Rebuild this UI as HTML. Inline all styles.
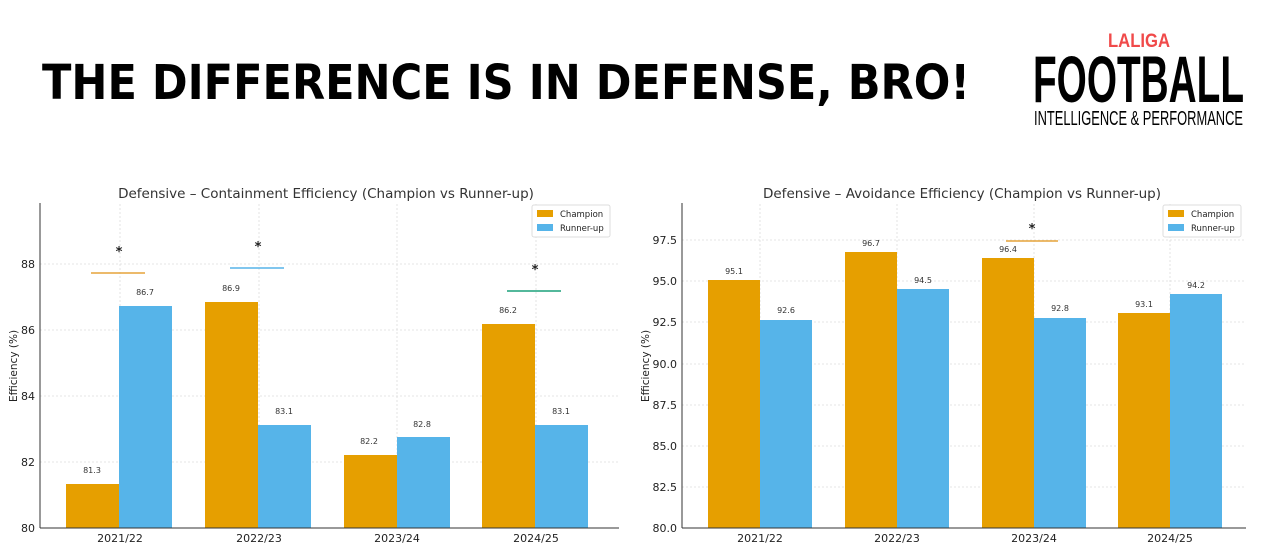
<!DOCTYPE html>
<html><head><meta charset="utf-8"><style>
html,body{margin:0;padding:0;background:#fff;}
svg{display:block;font-family:"DejaVu Sans","Liberation Sans",sans-serif;}
</style></head><body>
<svg width="1264" height="551" viewBox="0 0 1264 551" xmlns="http://www.w3.org/2000/svg">
<rect width="1264" height="551" fill="#fff"/>
<text x="42" y="99" font-family="DejaVu Sans" font-weight="bold" font-size="48" textLength="928" lengthAdjust="spacingAndGlyphs" fill="#000">THE DIFFERENCE IS IN DEFENSE, BRO!</text>
<text x="1108" y="47" font-family="Liberation Sans" font-weight="bold" font-size="19" textLength="62" lengthAdjust="spacingAndGlyphs" fill="#f04a4a">LALIGA</text>
<text x="1033" y="102" font-family="Liberation Sans" font-weight="bold" font-size="66" textLength="211" lengthAdjust="spacingAndGlyphs" fill="#000">FOOTBALL</text>
<text x="1034" y="125" font-family="Liberation Sans" font-size="20" textLength="209" lengthAdjust="spacingAndGlyphs" fill="#000">INTELLIGENCE &amp; PERFORMANCE</text>

<!-- LEFT CHART -->
<g font-size="11" fill="#222">
<text x="326" y="198" font-size="13.5" text-anchor="middle" fill="#333">Defensive – Containment Efficiency (Champion vs Runner-up)</text>
<g stroke="#ddd" stroke-dasharray="2,2" stroke-width="0.8">
<line x1="40" x2="619" y1="462" y2="462"/><line x1="40" x2="619" y1="396" y2="396"/><line x1="40" x2="619" y1="330" y2="330"/><line x1="40" x2="619" y1="264" y2="264"/>
<line x1="120" x2="120" y1="204" y2="528"/><line x1="259" x2="259" y1="204" y2="528"/><line x1="397" x2="397" y1="204" y2="528"/><line x1="536" x2="536" y1="204" y2="528"/>
</g>
<g fill="#e69f00">
<rect x="66" y="484" width="53" height="44"/><rect x="205" y="302" width="53" height="226"/><rect x="344" y="455" width="53" height="73"/><rect x="482" y="324" width="53" height="204"/>
</g>
<g fill="#56b4e9">
<rect x="119" y="306" width="53" height="222"/><rect x="258" y="425" width="53" height="103"/><rect x="397" y="437" width="53" height="91"/><rect x="535" y="425" width="53" height="103"/>
</g>
<g font-size="8" text-anchor="middle" fill="#333">
<text x="92" y="473">81.3</text><text x="145" y="295">86.7</text><text x="231" y="291">86.9</text><text x="284" y="414">83.1</text>
<text x="369" y="444">82.2</text><text x="422" y="427">82.8</text><text x="508" y="313">86.2</text><text x="561" y="414">83.1</text>
</g>
<line x1="91" x2="145" y1="273" y2="273" stroke="#e6a43a" stroke-width="1.5"/>
<line x1="230" x2="284" y1="268" y2="268" stroke="#56b4e9" stroke-width="1.5"/>
<line x1="507" x2="561" y1="291" y2="291" stroke="#1aa07a" stroke-width="1.5"/>
<g font-size="13" font-weight="bold" text-anchor="middle" fill="#222"><text x="119" y="256">*</text><text x="258" y="251">*</text><text x="535" y="274">*</text></g>
<line x1="40" x2="40" y1="203" y2="528" stroke="#333"/>
<line x1="40" x2="619" y1="528" y2="528" stroke="#333"/>
<g text-anchor="end"><text x="35" y="532">80</text><text x="35" y="466">82</text><text x="35" y="400">84</text><text x="35" y="334">86</text><text x="35" y="268">88</text></g>
<g text-anchor="middle"><text x="120" y="542">2021/22</text><text x="259" y="542">2022/23</text><text x="397" y="542">2023/24</text><text x="536" y="542">2024/25</text></g>
<text transform="translate(17,366) rotate(-90)" text-anchor="middle" font-size="10.5">Efficiency (%)</text>
<rect x="532" y="205" width="78" height="32" fill="#fff" stroke="#ddd" rx="2"/>
<rect x="537" y="210" width="16" height="7" fill="#e69f00"/><rect x="537" y="224" width="16" height="7" fill="#56b4e9"/>
<text x="560" y="217" font-size="8.5">Champion</text><text x="560" y="231" font-size="8.5">Runner-up</text>
</g>

<!-- RIGHT CHART -->
<g font-size="11" fill="#222">
<text x="962" y="198" font-size="13.5" text-anchor="middle" fill="#333">Defensive – Avoidance Efficiency (Champion vs Runner-up)</text>
<g stroke="#ddd" stroke-dasharray="2,2" stroke-width="0.8">
<line x1="682" x2="1246" y1="487" y2="487"/><line x1="682" x2="1246" y1="446" y2="446"/><line x1="682" x2="1246" y1="405" y2="405"/><line x1="682" x2="1246" y1="364" y2="364"/><line x1="682" x2="1246" y1="322" y2="322"/><line x1="682" x2="1246" y1="281" y2="281"/><line x1="682" x2="1246" y1="240" y2="240"/>
<line x1="760" x2="760" y1="204" y2="528"/><line x1="897" x2="897" y1="204" y2="528"/><line x1="1034" x2="1034" y1="204" y2="528"/><line x1="1170" x2="1170" y1="204" y2="528"/>
</g>
<g fill="#e69f00">
<rect x="708" y="280" width="52" height="248"/><rect x="845" y="252" width="52" height="276"/><rect x="982" y="258" width="52" height="270"/><rect x="1118" y="313" width="52" height="215"/>
</g>
<g fill="#56b4e9">
<rect x="760" y="320" width="52" height="208"/><rect x="897" y="289" width="52" height="239"/><rect x="1034" y="318" width="52" height="210"/><rect x="1170" y="294" width="52" height="234"/>
</g>
<g font-size="8" text-anchor="middle" fill="#333">
<text x="734" y="274">95.1</text><text x="786" y="313">92.6</text><text x="871" y="246">96.7</text><text x="923" y="283">94.5</text>
<text x="1008" y="252">96.4</text><text x="1060" y="311">92.8</text><text x="1144" y="307">93.1</text><text x="1196" y="288">94.2</text>
</g>
<line x1="1006" x2="1058" y1="241" y2="241" stroke="#e6a43a" stroke-width="1.5"/>
<text x="1032" y="233" font-size="13" font-weight="bold" text-anchor="middle">*</text>
<line x1="682" x2="682" y1="203" y2="528" stroke="#333"/>
<line x1="682" x2="1246" y1="528" y2="528" stroke="#333"/>
<g text-anchor="end"><text x="677" y="532">80.0</text><text x="677" y="491">82.5</text><text x="677" y="450">85.0</text><text x="677" y="409">87.5</text><text x="677" y="368">90.0</text><text x="677" y="326">92.5</text><text x="677" y="285">95.0</text><text x="677" y="244">97.5</text></g>
<g text-anchor="middle"><text x="760" y="542">2021/22</text><text x="897" y="542">2022/23</text><text x="1034" y="542">2023/24</text><text x="1170" y="542">2024/25</text></g>
<text transform="translate(649,366) rotate(-90)" text-anchor="middle" font-size="10.5">Efficiency (%)</text>
<rect x="1163" y="205" width="78" height="32" fill="#fff" stroke="#ddd" rx="2"/>
<rect x="1168" y="210" width="16" height="7" fill="#e69f00"/><rect x="1168" y="224" width="16" height="7" fill="#56b4e9"/>
<text x="1191" y="217" font-size="8.5">Champion</text><text x="1191" y="231" font-size="8.5">Runner-up</text>
</g>
</svg>
</body></html>
